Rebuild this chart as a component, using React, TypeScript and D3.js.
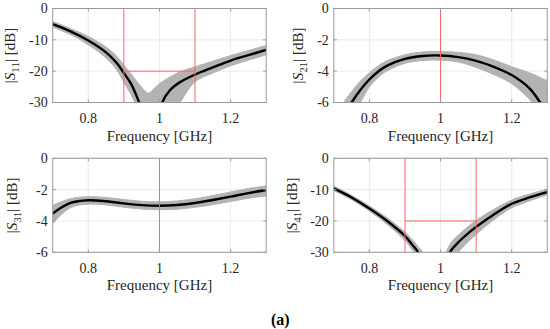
import React from "react";
import * as d3 from "d3";

// frequency axis, GHz
const freqTicks = [0.8, 1, 1.2];

// |S11| - nominal curve and spread of the gray band (dB)
const s11Freq = [0.7, 0.75, 0.8, 0.85, 0.88, 0.9, 0.92, 0.943, 0.969, 0.985, 1.0, 1.008, 1.03, 1.058, 1.1, 1.15, 1.2, 1.25, 1.3];
const s11Mean = [-5.0, -7.3, -10.2, -14.0, -17.4, -20.6, -24.0, -30, -38, -45, -36, -30, -26.0, -23.5, -21.1, -18.8, -16.6, -14.9, -13.2];
const s11Upper = [-4.1, -6.4, -8.9, -12.3, -15.2, -18.1, -20.8, -24.2, -27.0, -25.5, -24.0, -23.4, -21.8, -20.2, -18.6, -16.8, -15.0, -13.4, -11.8];
const s11Lower = [-6.0, -8.3, -11.6, -15.8, -19.6, -23.6, -27.5, -33, -40, -45, -45, -42, -35, -30, -23.4, -20.6, -18.3, -16.5, -14.8];

// |S21|
const s21Freq = [0.7, 0.725, 0.75, 0.775, 0.8, 0.825, 0.85, 0.9, 0.95, 1.0, 1.05, 1.1, 1.15, 1.2, 1.25, 1.28, 1.3];
const s21Mean = [-8.2, -7.0, -6.0, -5.18, -4.53, -4.02, -3.65, -3.22, -3.03, -3.0, -3.1, -3.34, -3.72, -4.25, -5.1, -6.0, -6.7];
const s21Upper = [-7.2, -6.1, -5.3, -4.62, -4.1, -3.65, -3.33, -2.95, -2.77, -2.74, -2.8, -2.95, -3.28, -3.72, -4.1, -4.4, -4.6];
const s21Lower = [-9.3, -8.0, -6.9, -6.0, -5.0, -4.4, -3.98, -3.5, -3.32, -3.3, -3.42, -3.76, -4.22, -4.8, -5.8, -6.7, -7.3];

// |S31|
const s31Freq = [0.7, 0.75, 0.8, 0.85, 0.9, 0.95, 1.0, 1.05, 1.1, 1.15, 1.2, 1.25, 1.3];
const s31Mean = [-3.52, -2.85, -2.68, -2.74, -2.88, -2.99, -3.03, -2.98, -2.85, -2.66, -2.45, -2.22, -2.02];
const s31Upper = [-3.0, -2.58, -2.45, -2.5, -2.63, -2.74, -2.78, -2.72, -2.58, -2.38, -2.15, -1.93, -1.76];
const s31Lower = [-4.15, -3.15, -2.93, -2.98, -3.12, -3.24, -3.28, -3.25, -3.13, -2.96, -2.76, -2.55, -2.4];

// |S41|
const s41Freq = [0.7, 0.75, 0.8, 0.85, 0.9, 0.92, 0.937, 0.96, 0.985, 1.0, 1.026, 1.05, 1.1, 1.15, 1.2, 1.25, 1.3];
const s41Mean = [-9.6, -12.5, -16.0, -20.0, -24.8, -27.5, -30, -34.5, -42, -38, -30, -26.8, -21.9, -17.9, -14.5, -12.5, -10.8];
const s41Upper = [-8.9, -11.8, -15.2, -19.0, -23.5, -25.9, -28.2, -31.5, -38, -35, -27.5, -24.5, -19.8, -16.3, -13.3, -11.4, -9.9];
const s41Lower = [-10.3, -13.2, -16.8, -21.1, -26.2, -29.2, -31.8, -36.5, -44, -41, -35, -30, -24.3, -19.6, -15.8, -13.6, -11.7];

// y ticks
const ticksDeep = [0, -10, -20, -30];
const ticksShallow = [0, -2, -4, -6];

// red spec markers
const bandEdges = [0.9, 1.1];
const centerFreq = [1];
const matchLevel = -20;

const W = 213.5;
const H = 94;
const font = "Liberation Serif, Times New Roman, serif";

function Panel(props) {
  const { id, left, top, yDomain, yTicks, sub, freq, mean, upper, lower, vlines, hlevel, labelX } = props;
  const x = d3.scaleLinear().domain([0.7, 1.3]).range([left, left + W]);
  const y = d3.scaleLinear().domain(yDomain).range([top + H, top]);

  const pts = freq.map((f, i) => ({ f, m: mean[i], u: upper[i], l: lower[i] }));
  const curve = d3.curveCatmullRom.alpha(0.5);
  const band = d3.area().x(d => x(d.f)).y0(d => y(d.l)).y1(d => y(d.u)).curve(curve)(pts);
  const line = d3.line().x(d => x(d.f)).y(d => y(d.m)).curve(curve)(pts);

  const tl = 3;
  return (
    <g>
      <defs>
        <clipPath id={id}>
          <rect x={left} y={top} width={W} height={H} />
        </clipPath>
      </defs>
      <rect x={left} y={top} width={W} height={H} fill="#fff" />
      {freqTicks.map(t => (
        <line key={"gx" + t} x1={x(t)} x2={x(t)} y1={top} y2={top + H} stroke="#e4e4e4" strokeWidth={0.8} />
      ))}
      {yTicks.map(t => (
        <line key={"gy" + t} x1={left} x2={left + W} y1={y(t)} y2={y(t)} stroke="#e4e4e4" strokeWidth={0.8} />
      ))}
      <g clipPath={`url(#${id})`}>
        <path d={band} fill="#b3b3b3" stroke="#b3b3b3" strokeWidth={1} />
        <path d={line} fill="none" stroke="#000" strokeWidth={2.4} />
        {vlines.map(v => (
          <line key={"v" + v} x1={x(v)} x2={x(v)} y1={top} y2={top + H} stroke="#ff6464" strokeWidth={1} />
        ))}
        {hlevel !== undefined && (
          <line x1={x(vlines[0])} x2={x(vlines[1])} y1={y(hlevel)} y2={y(hlevel)} stroke="#ff6464" strokeWidth={1} />
        )}
      </g>
      {freqTicks.map(t => (
        <g key={"tx" + t}>
          <line x1={x(t)} x2={x(t)} y1={top + H} y2={top + H - tl} stroke="#999" />
          <line x1={x(t)} x2={x(t)} y1={top} y2={top + tl} stroke="#999" />
        </g>
      ))}
      {yTicks.map(t => (
        <g key={"ty" + t}>
          <line x1={left} x2={left + tl} y1={y(t)} y2={y(t)} stroke="#999" />
          <line x1={left + W} x2={left + W - tl} y1={y(t)} y2={y(t)} stroke="#999" />
        </g>
      ))}
      <rect x={left} y={top} width={W} height={H} fill="none" stroke="#999" strokeWidth={1} />
      <g style={{ fontFamily: font, fontSize: "14px" }} fill="#262626">
        {freqTicks.map(t => (
          <text key={"lx" + t} x={x(t)} y={top + H + 20.5} textAnchor="middle">{d3.format("~g")(t)}</text>
        ))}
        {yTicks.map(t => (
          <text key={"ly" + t} x={left - 5} y={y(t)} dy="0.35em" textAnchor="end">{t === 0 ? "0" : "-" + Math.abs(t)}</text>
        ))}
      </g>
      <text x={left + W / 2} y={top + H + 38} textAnchor="middle" style={{ fontFamily: font, fontSize: "15px" }} fill="#262626">
        Frequency [GHz]
      </text>
      <text
        transform={`translate(${labelX},${top + H / 2}) rotate(-90)`}
        textAnchor="middle"
        dy="0.35em"
        style={{ fontFamily: font, fontSize: "15px" }}
        fill="#262626"
      >
        |<tspan fontStyle="italic">S</tspan>
        <tspan style={{ fontSize: "11px" }} dy="4">{sub}</tspan>
        <tspan dy="-4">| [dB]</tspan>
      </text>
    </g>
  );
}

export default function App() {
  return (
    <svg width={550} height={329} style={{ position: "absolute", left: 0, top: 0, background: "#fff" }}>
      <Panel id="c11" left={52.7} top={8.5} yDomain={[-30, 0]} yTicks={ticksDeep} sub="11"
        freq={s11Freq} mean={s11Mean} upper={s11Upper} lower={s11Lower}
        vlines={bandEdges} hlevel={matchLevel} labelX={10} />
      <Panel id="c21" left={333.8} top={8.5} yDomain={[-6, 0]} yTicks={ticksShallow} sub="21"
        freq={s21Freq} mean={s21Mean} upper={s21Upper} lower={s21Lower}
        vlines={centerFreq} labelX={298} />
      <Panel id="c31" left={52.7} top={158.3} yDomain={[-6, 0]} yTicks={ticksShallow} sub="31"
        freq={s31Freq} mean={s31Mean} upper={s31Upper} lower={s31Lower}
        vlines={centerFreq} labelX={12} />
      <Panel id="c41" left={333.8} top={158.3} yDomain={[-30, 0]} yTicks={ticksDeep} sub="41"
        freq={s41Freq} mean={s41Mean} upper={s41Upper} lower={s41Lower}
        vlines={bandEdges} hlevel={matchLevel} labelX={291.5} />
      <text x={271} y={325} style={{ fontFamily: font, fontSize: "16px", fontWeight: "bold" }} fill="#000">(a)</text>
    </svg>
  );
}
